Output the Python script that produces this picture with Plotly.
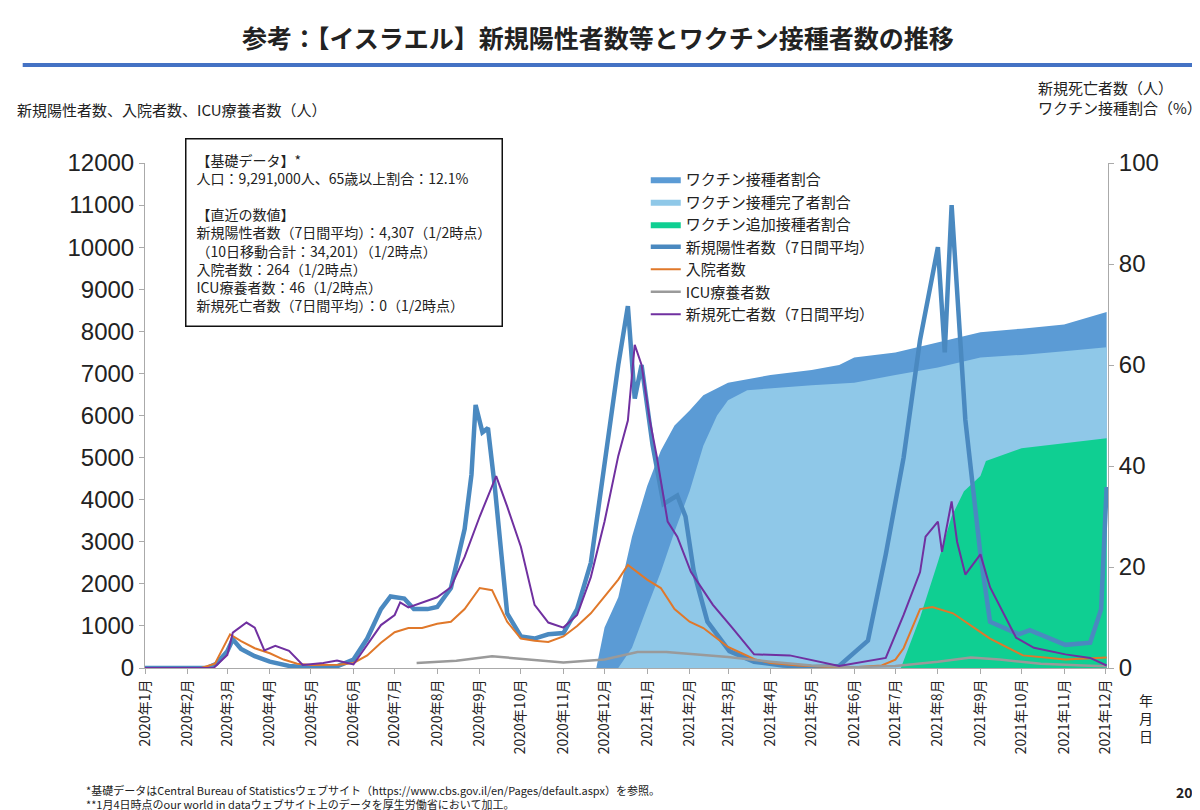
import plotly.graph_objects as go

# 新規陽性者数（7日間平均）
case_dates = ["2020-01-01", "2020-02-15", "2020-02-22", "2020-03-01", "2020-03-05", "2020-03-11", "2020-03-21",
              "2020-04-01", "2020-04-15", "2020-05-01", "2020-05-20", "2020-06-01", "2020-06-11", "2020-06-21",
              "2020-06-28", "2020-07-08", "2020-07-15", "2020-07-25", "2020-08-01", "2020-08-11", "2020-08-21",
              "2020-08-26", "2020-08-29", "2020-09-03", "2020-09-07", "2020-09-12", "2020-09-21", "2020-10-01",
              "2020-10-11", "2020-10-21", "2020-11-01", "2020-11-11", "2020-11-21", "2020-12-01", "2020-12-11",
              "2020-12-18", "2020-12-23", "2020-12-28", "2021-01-05", "2021-01-13", "2021-01-23", "2021-01-29",
              "2021-02-04", "2021-02-14", "2021-03-02", "2021-03-20", "2021-04-10", "2021-05-01", "2021-05-21",
              "2021-06-11", "2021-06-24", "2021-07-07", "2021-07-19", "2021-08-01", "2021-08-06", "2021-08-11",
              "2021-08-21", "2021-09-01", "2021-09-08", "2021-09-29", "2021-10-07", "2021-11-02", "2021-11-20",
              "2021-11-28", "2021-12-02"]
cases = [0, 0, 100, 400, 680, 450, 280,
         150, 50, 10, 40, 200, 700, 1400,
         1700, 1650, 1400, 1400, 1450, 1900, 3300,
         4600, 6250, 5600, 5700, 4300, 1300, 750,
         700, 800, 830, 1400, 2500, 4900, 7200,
         8600, 6400, 7200, 5300, 3900, 4100, 3600,
         2300, 1100, 400, 150, 60, 20, 50,
         650, 2700, 5000, 7800, 10000, 7500, 11000,
         5900, 2700, 1100, 800, 900, 550, 600,
         1400, 4300]

# 入院者数
hosp_dates = ["2020-01-01", "2020-02-11", "2020-02-21", "2020-03-03", "2020-03-11", "2020-03-21", "2020-04-01",
              "2020-04-11", "2020-04-21", "2020-05-01", "2020-05-21", "2020-06-01", "2020-06-11", "2020-06-21",
              "2020-07-01", "2020-07-11", "2020-07-21", "2020-08-01", "2020-08-11", "2020-08-21", "2020-09-01",
              "2020-09-10", "2020-09-21", "2020-10-01", "2020-10-11", "2020-10-21", "2020-11-01", "2020-11-11",
              "2020-11-21", "2020-12-01", "2020-12-11", "2020-12-18", "2021-01-01", "2021-01-11", "2021-01-21",
              "2021-02-01", "2021-02-11", "2021-02-21", "2021-03-01", "2021-03-11", "2021-03-21", "2021-04-01",
              "2021-04-21", "2021-05-11", "2021-06-01", "2021-06-21", "2021-07-01", "2021-07-07", "2021-07-19",
              "2021-07-28", "2021-08-12", "2021-09-08", "2021-10-02", "2021-11-02", "2021-12-02"]
hosp = [0, 0, 100, 800, 640, 470, 350,
        200, 100, 70, 80, 120, 300, 600,
        850, 950, 950, 1050, 1100, 1400, 1900,
        1850, 1100, 700, 650, 620, 750, 1000,
        1300, 1700, 2100, 2450, 2100, 1900, 1400,
        1100, 950, 700, 500, 350, 200, 120,
        60, 30, 20, 60, 200, 470, 1400,
        1450, 1300, 700, 300, 200, 250]

# ICU療養者数
icu_dates = ["2020-07-17", "2020-08-15", "2020-09-10", "2020-10-10", "2020-11-01", "2020-12-01", "2020-12-25",
             "2021-01-15", "2021-02-15", "2021-03-01", "2021-04-01", "2021-05-01", "2021-06-01", "2021-07-01",
             "2021-08-01", "2021-08-25", "2021-09-15", "2021-10-15", "2021-11-15", "2021-12-02"]
icu = [120, 170, 280, 200, 130, 200, 380,
       380, 300, 260, 150, 60, 20, 50,
       150, 250, 200, 100, 60, 40]

# 新規死亡者数（7日間平均）
death_dates = ["2020-01-01", "2020-02-20", "2020-03-01", "2020-03-05", "2020-03-15", "2020-03-21", "2020-03-28",
               "2020-04-05", "2020-04-15", "2020-04-25", "2020-05-10", "2020-05-20", "2020-06-01", "2020-06-11",
               "2020-06-21", "2020-07-01", "2020-07-05", "2020-07-11", "2020-07-21", "2020-08-01", "2020-08-11",
               "2020-08-21", "2020-09-01", "2020-09-11", "2020-09-13", "2020-09-21", "2020-10-01", "2020-10-11",
               "2020-10-21", "2020-11-01", "2020-11-11", "2020-11-21", "2020-12-01", "2020-12-11", "2020-12-18",
               "2020-12-23", "2020-12-28", "2021-01-03", "2021-01-08", "2021-01-16", "2021-01-23", "2021-02-02",
               "2021-02-18", "2021-03-04", "2021-03-20", "2021-04-15", "2021-05-21", "2021-06-24", "2021-07-07",
               "2021-07-19", "2021-07-23", "2021-08-01", "2021-08-04", "2021-08-11", "2021-08-15", "2021-08-21",
               "2021-09-01", "2021-09-08", "2021-09-27", "2021-10-10", "2021-11-02", "2021-11-20", "2021-12-02"]
deaths = [0, 0, 2.6, 7, 9, 8, 3.5,
          4.4, 3.4, 0.6, 1, 1.5, 0.7, 4.5,
          8.5, 10.5, 13, 12, 13, 14, 16,
          22, 30, 37, 38, 32, 24, 12.5,
          9, 8, 10.5, 18, 29, 42, 49,
          64, 60, 49, 42, 29, 26, 19,
          12.5, 8, 2.7, 2.5, 0.4, 2, 10.5,
          19, 26, 29, 23, 33, 25, 18.5,
          22.5, 16, 6, 4, 2.7, 2, 0.5]

# ワクチン接種割合（%）
vac_dates = ["2020-11-25", "2020-12-01", "2020-12-11", "2020-12-21", "2021-01-01", "2021-01-11", "2021-01-21",
             "2021-02-01", "2021-02-11", "2021-03-01", "2021-04-01", "2021-05-01", "2021-05-21", "2021-06-01",
             "2021-07-01", "2021-08-01", "2021-09-01", "2021-10-01", "2021-11-01", "2021-12-02"]
vac_any = [0, 8, 14, 26, 36, 43, 48,
           51, 54, 56.5, 58, 59, 60, 61.5,
           62.5, 64.5, 66.5, 67.2, 68, 70.5]

full_dates = ["2020-12-11", "2020-12-21", "2021-01-01", "2021-01-11", "2021-01-21", "2021-02-01", "2021-02-11",
              "2021-02-21", "2021-03-01", "2021-03-15", "2021-05-01", "2021-06-01", "2021-07-01", "2021-08-01",
              "2021-09-01", "2021-10-01", "2021-11-01", "2021-12-02"]
vac_full = [0, 4, 12, 19, 27, 35, 44,
            50, 53, 55, 56, 56.5, 58, 59.5,
            61.5, 62, 62.7, 63.5]

boost_dates = ["2021-07-05", "2021-07-19", "2021-08-01", "2021-08-11", "2021-08-20", "2021-09-01", "2021-09-05",
               "2021-10-01", "2021-11-01", "2021-12-02"]
vac_boost = [0, 10, 21, 30, 35, 38, 41, 43.5, 44.5, 45.5]

month_vals = ["%d-%02d-01" % (y, m) for y in (2020, 2021) for m in range(1, 13)]
month_text = ["%d年%d月" % (y, m) for y in (2020, 2021) for m in range(1, 13)]

font = "Noto Sans CJK JP"
fig = go.Figure()

# areas on the bottom axis (y, right side, %), counts on y2 (left), deaths on y3 (right, hidden)
fig.add_trace(go.Scatter(x=vac_dates, y=vac_any, yaxis="y", name="ワクチン接種者割合",
                         fill="tozeroy", mode="lines", line=dict(width=0, color="#5b9bd5"),
                         fillcolor="#5b9bd5"))
fig.add_trace(go.Scatter(x=full_dates, y=vac_full, yaxis="y", name="ワクチン接種完了者割合",
                         fill="tozeroy", mode="lines", line=dict(width=0, color="#8fc8e8"),
                         fillcolor="#8fc8e8"))
fig.add_trace(go.Scatter(x=boost_dates, y=vac_boost, yaxis="y", name="ワクチン追加接種者割合",
                         fill="tozeroy", mode="lines", line=dict(width=0, color="#0fcf92"),
                         fillcolor="#0fcf92"))
fig.add_trace(go.Scatter(x=case_dates, y=cases, yaxis="y2", name="新規陽性者数（7日間平均）", mode="lines",
                         line=dict(width=4.5, color="#4a89c0")))
fig.add_trace(go.Scatter(x=hosp_dates, y=hosp, yaxis="y2", name="入院者数", mode="lines",
                         line=dict(width=2, color="#e0782a")))
fig.add_trace(go.Scatter(x=icu_dates, y=icu, yaxis="y2", name="ICU療養者数", mode="lines",
                         line=dict(width=2.5, color="#9a9a9a")))
fig.add_trace(go.Scatter(x=death_dates, y=deaths, yaxis="y3", name="新規死亡者数（7日間平均）", mode="lines",
                         line=dict(width=2, color="#7030a0")))

box_text = ("【基礎データ】*<br>人口：9,291,000人、65歳以上割合：12.1%<br><br>【直近の数値】<br>"
            "新規陽性者数（7日間平均）：4,307（1/2時点）<br>（10日移動合計：34,201）（1/2時点）<br>"
            "入院者数：264（1/2時点）<br>ICU療養者数：46（1/2時点）<br>新規死亡者数（7日間平均）：0（1/2時点）")

tickfont = dict(size=24, family="Liberation Sans", color="#222")
fig.update_layout(
    width=1200, height=810,
    paper_bgcolor="white", plot_bgcolor="white",
    margin=dict(l=137, r=100, t=155, b=150),
    font=dict(family=font, color="#222"),
    showlegend=True,
    legend=dict(x=0.52, y=1.0, xanchor="left", yanchor="top", bgcolor="rgba(0,0,0,0)",
                font=dict(size=15), tracegroupgap=0, itemwidth=30),
    xaxis=dict(range=["2020-01-01", "2021-12-03"], tickvals=month_vals, ticktext=month_text,
               tickangle=-90, tickfont=dict(size=14), showgrid=False, showline=True,
               linecolor="#aaa", ticks="outside", ticklen=5, tickcolor="#aaa"),
    yaxis=dict(range=[0, 100], dtick=20, side="right", tickfont=tickfont, showgrid=False, showline=True,
               linecolor="#aaa", ticks="outside", tickcolor="#aaa", zeroline=False),
    yaxis2=dict(range=[0, 12000], dtick=1000, tickformat="d", overlaying="y", side="left",
                tickfont=tickfont, showgrid=False, showline=True, linecolor="#aaa", ticks="outside",
                tickcolor="#aaa", zeroline=False),
    yaxis3=dict(range=[0, 100], overlaying="y", side="right", visible=False),
    shapes=[dict(type="line", xref="paper", yref="paper", x0=-0.127, x1=1.088, y0=1.194, y1=1.194,
                 line=dict(color="#4472c4", width=4))],
    annotations=[
        dict(text="<b>参考：【イスラエル】新規陽性者数等とワクチン接種者数の推移</b>", xref="paper", yref="paper",
             x=0.47, y=1.25, xanchor="center", yanchor="middle", showarrow=False, font=dict(size=25)),
        dict(text="新規陽性者数、入院者数、ICU療養者数（人）", xref="paper", yref="paper", x=-0.135, y=1.105,
             xanchor="left", yanchor="middle", showarrow=False, font=dict(size=15)),
        dict(text="新規死亡者数（人）<br>ワクチン接種割合（%）", xref="paper", yref="paper", x=1.1, y=1.13,
             xanchor="right", yanchor="middle", align="left", showarrow=False, font=dict(size=15)),
        dict(text=box_text, xref="paper", yref="paper", x=0.042, y=1.05, xanchor="left", yanchor="top",
             align="left", showarrow=False, font=dict(size=14), bordercolor="#111", borderwidth=1.5,
             borderpad=10, bgcolor="white"),
        dict(text="年<br>月<br>日", xref="paper", yref="paper", x=1.03, y=-0.04, xanchor="left", yanchor="top",
             showarrow=False, font=dict(size=14)),
        dict(text="*基礎データはCentral Bureau of Statisticsウェブサイト（https://www.cbs.gov.il/en/Pages/default.aspx）を参照。<br>"
                  "**1月4日時点のour world in dataウェブサイト上のデータを厚生労働省において加工。",
             xref="paper", yref="paper", x=-0.063, y=-0.222, xanchor="left", yanchor="top", align="left",
             showarrow=False, font=dict(size=11)),
        dict(text="<b>20</b>", xref="paper", yref="paper", x=1.09, y=-0.222, xanchor="right", yanchor="top",
             showarrow=False, font=dict(size=14)),
    ],
)

fig.write_html("out.html")
